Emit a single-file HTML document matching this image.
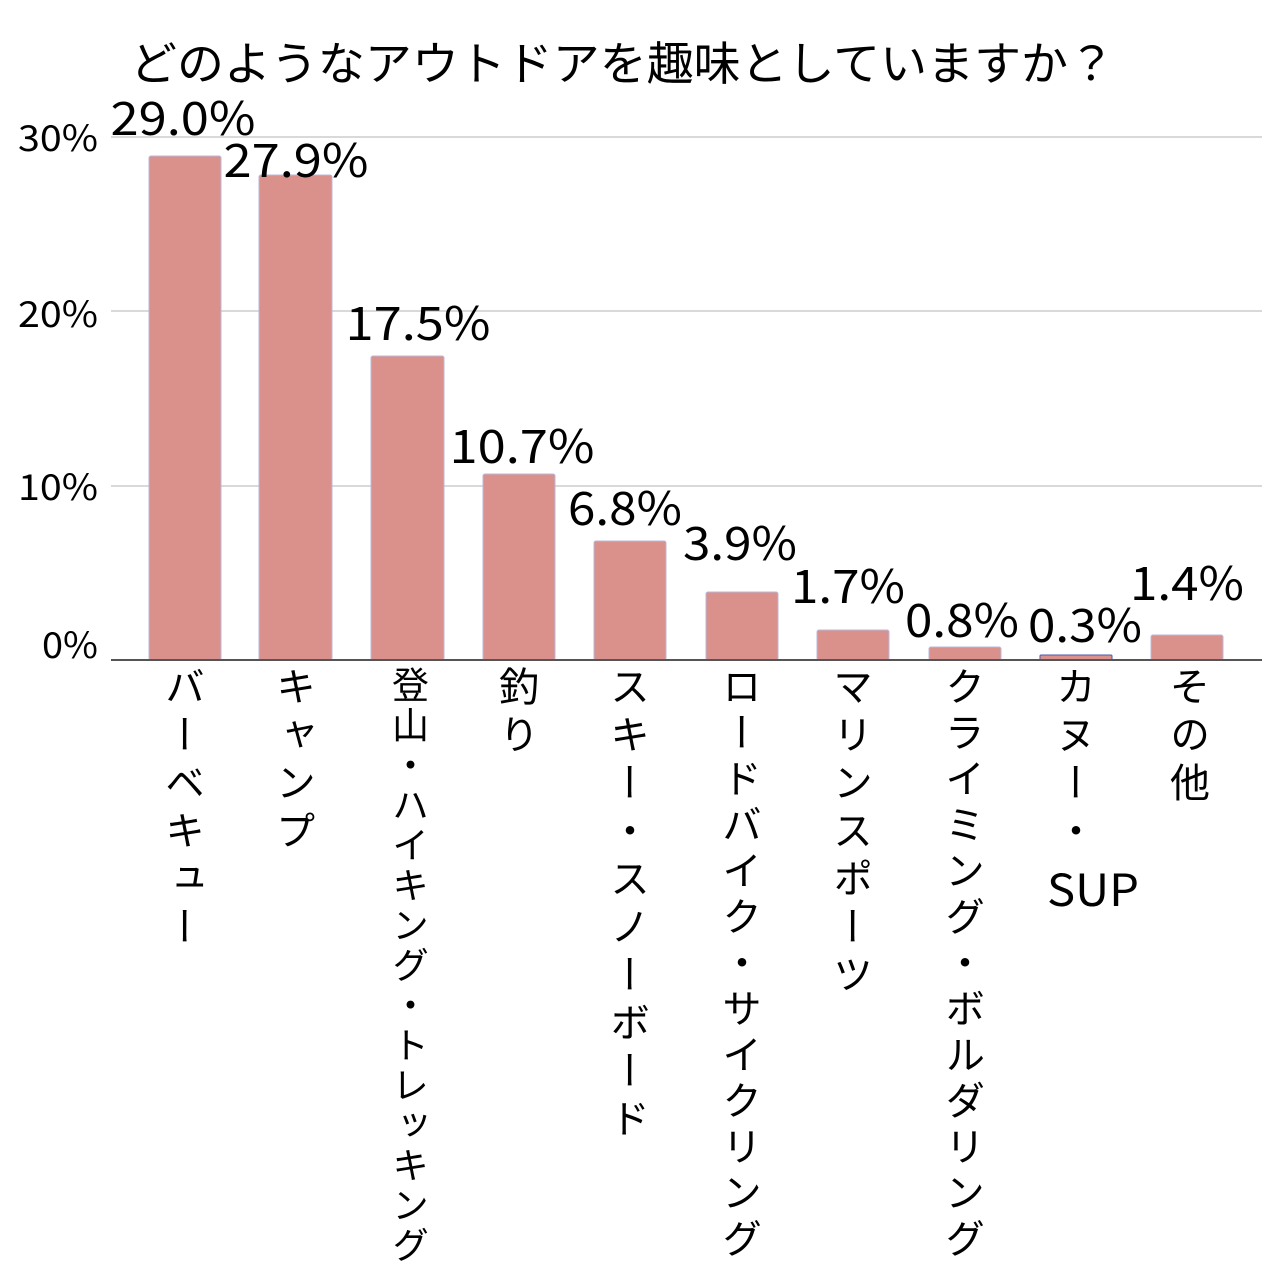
<!DOCTYPE html>
<html style="width:1280px;height:1280px;overflow:hidden"><head><meta charset="utf-8"><style>
body{margin:0;width:1280px;height:1280px;background:#fff;position:relative;overflow:hidden;font-family:"Liberation Sans","Noto Sans CJK JP",sans-serif;}
svg{position:absolute;left:0;top:0}
.v{position:absolute;top:666px;white-space:nowrap;writing-mode:vertical-rl;text-orientation:upright;font-family:"Noto Sans CJK JP",sans-serif;font-size:40px;line-height:40px;letter-spacing:8px;color:#000;transform:translateX(-50%)}
</style></head><body>
<svg width="1280" height="1280" font-family="'Noto Sans CJK JP',sans-serif">
<g stroke="#d9d9d9" stroke-width="2">
<line x1="111" x2="1262" y1="137" y2="137"/><line x1="111" x2="1262" y1="311" y2="311"/><line x1="111" x2="1262" y1="486" y2="486"/>
</g>
<g fill="#db918b" stroke="#b8b8d8" stroke-width="1">
<rect x="149" y="156" width="72" height="504" rx="2"/>
<rect x="259" y="175" width="73" height="485" rx="2"/>
<rect x="371" y="356" width="73" height="304" rx="2"/>
<rect x="483" y="474" width="72" height="186" rx="2"/>
<rect x="594" y="541" width="72" height="119" rx="2"/>
<rect x="706" y="592" width="72" height="68" rx="2"/>
<rect x="817" y="630" width="72" height="30" rx="2"/>
<rect x="929" y="647" width="72" height="13" rx="2"/>
<rect x="1040" y="655" width="72" height="5" rx="1" stroke="#4b5aa8"/>
<rect x="1151" y="635" width="72" height="25" rx="2"/>
</g>
<line x1="111" x2="1262" y1="660" y2="660" stroke="#555" stroke-width="2"/>
<g font-size="36" text-anchor="end" fill="#000">
<text x="98" y="151" textLength="80" lengthAdjust="spacingAndGlyphs">30%</text><text x="98" y="327" textLength="80" lengthAdjust="spacingAndGlyphs">20%</text><text x="98" y="500" textLength="80" lengthAdjust="spacingAndGlyphs">10%</text><text x="98" y="658" textLength="56" lengthAdjust="spacingAndGlyphs">0%</text>
</g>
<g font-size="46" text-anchor="middle" fill="#000">
<text x="183" y="135" textLength="145" lengthAdjust="spacingAndGlyphs">29.0%</text><text x="296" y="177" textLength="145" lengthAdjust="spacingAndGlyphs">27.9%</text><text x="418" y="340" textLength="145" lengthAdjust="spacingAndGlyphs">17.5%</text>
<text x="522" y="463" textLength="145" lengthAdjust="spacingAndGlyphs">10.7%</text><text x="625" y="525" textLength="114" lengthAdjust="spacingAndGlyphs">6.8%</text><text x="740" y="560" textLength="114" lengthAdjust="spacingAndGlyphs">3.9%</text>
<text x="848" y="603" textLength="114" lengthAdjust="spacingAndGlyphs">1.7%</text><text x="962" y="637" textLength="114" lengthAdjust="spacingAndGlyphs">0.8%</text><text x="1085" y="642" textLength="114" lengthAdjust="spacingAndGlyphs">0.3%</text><text x="1187" y="600" textLength="114" lengthAdjust="spacingAndGlyphs">1.4%</text>
</g>
<text x="130" y="80" font-size="46" fill="#000" textLength="985" lengthAdjust="spacingAndGlyphs">どのようなアウトドアを趣味としていますか？</text>
<text x="1093" y="906" font-size="44" text-anchor="middle" fill="#000" textLength="92" lengthAdjust="spacingAndGlyphs">SUP</text>
</svg>
<div class="v" style="left:185px">バーベキュー</div>
<div class="v" style="left:296px">キャンプ</div>
<div class="v" style="left:410px;font-size:37px;line-height:37px;letter-spacing:3px">登山・ハイキング・トレッキング</div>
<div class="v" style="left:519px">釣り</div>
<div class="v" style="left:630px">スキー・スノーボード</div>
<div class="v" style="left:742px;letter-spacing:6px">ロードバイク・サイクリング</div>
<div class="v" style="left:853px">マリンスポーツ</div>
<div class="v" style="left:965px;letter-spacing:6px">クライミング・ボルダリング</div>
<div class="v" style="left:1076px">カヌー・</div>
<div class="v" style="left:1190px">その他</div>
</body></html>
